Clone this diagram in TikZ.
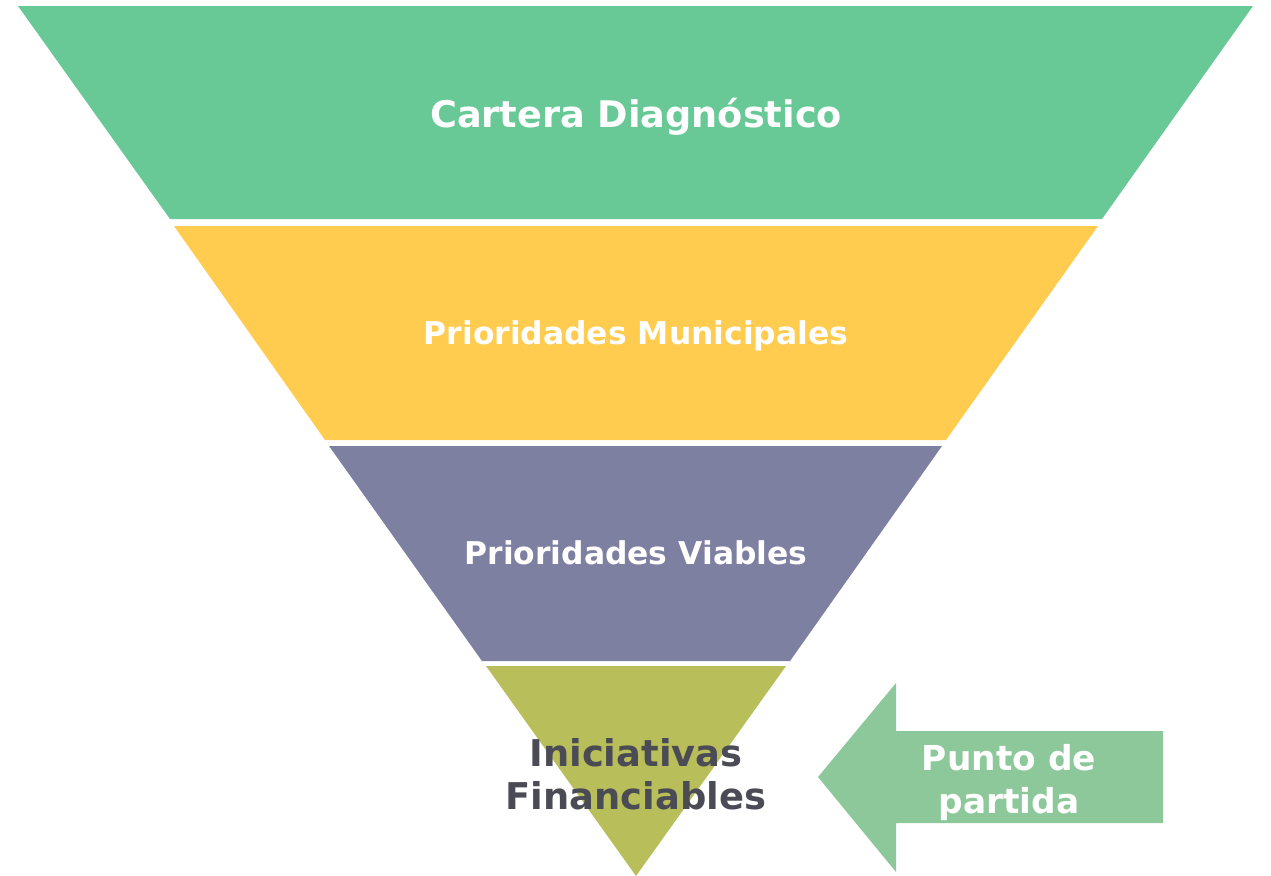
\documentclass[tikz,border=0pt]{standalone}
\usepackage{fontspec}
\setmainfont{DejaVu Sans}
\definecolor{cgreen}{HTML}{68C997}
\definecolor{cyellow}{HTML}{FFCC4F}
\definecolor{cpurple}{HTML}{7E80A2}
\definecolor{colive}{HTML}{B8BE5A}
\definecolor{carrow}{HTML}{8DC89A}
\definecolor{cdark}{HTML}{4B4B55}
\tikzset{
  band/.style={draw=none},
  lbl/.style={text=white,font=\bfseries\fontsize{#1}{43bp}\selectfont,align=center,inner sep=0pt},
  dlbl/.style={text=cdark,font=\bfseries\fontsize{#1}{43bp}\selectfont,align=center,inner sep=0pt},
}
\begin{document}
\begin{tikzpicture}[x=1bp,y=-1bp]
\useasboundingbox (0,0) rectangle (1271,876);
\fill[cgreen,band] (18,6) -- (1253,6) -- (1102,219) -- (170,219) -- cycle;
\fill[cyellow,band] (174,226) -- (1098,226) -- (946,440) -- (325,440) -- cycle;
\fill[cpurple,band] (329,446) -- (942,446) -- (790,661) -- (482,661) -- cycle;
\fill[colive,band] (486,666) -- (786,666) -- (636,876) -- cycle;
\fill[carrow] (818,777) -- (896,683) -- (896,731) -- (1163,731) -- (1163,823) -- (896,823) -- (896,872) -- cycle;
\node[lbl=36.8pt,anchor=base] (t1) at (636,127) {Cartera Diagnóstico};
\node[lbl=31.5pt,anchor=base] (t2) at (636,344) {Prioridades Municipales};
\node[lbl=31.5pt,anchor=base] (t3) at (636,564) {Prioridades Viables};
\node[dlbl=37pt] (t4) at (636,774) {Iniciativas\\Financiables};
\node[lbl=34.5pt] (t5) at (1009,783) {Punto de\\partida};
\end{tikzpicture}
\end{document}
